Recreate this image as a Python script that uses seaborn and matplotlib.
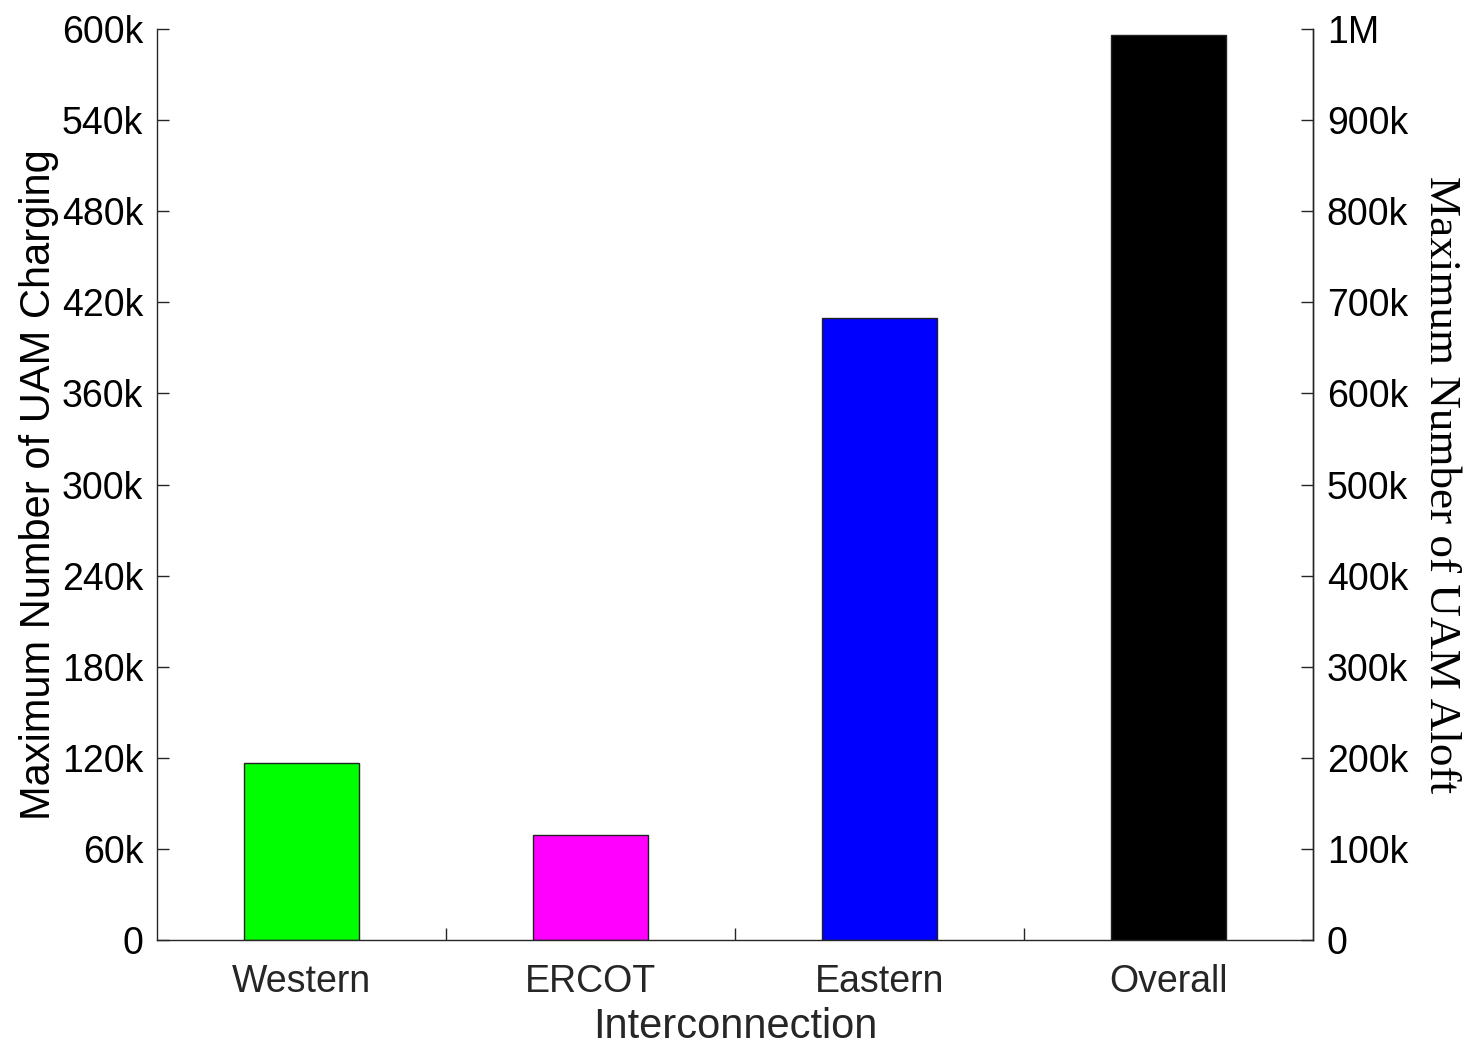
import matplotlib
matplotlib.use("Agg")
import matplotlib.pyplot as plt
import seaborn as sns
import pandas as pd
from matplotlib.ticker import FixedLocator

# Data
categories = ["Western", "ERCOT", "Eastern", "Overall"]
max_charging = [116400, 69200, 410000, 596000]
bar_colors = ["#00FF00", "#FF00FF", "#0000FF", "#000000"]

left_ticks = [0, 60000, 120000, 180000, 240000, 300000, 360000, 420000, 480000, 540000, 600000]
left_labels = ["0", "60k", "120k", "180k", "240k", "300k", "360k", "420k", "480k", "540k", "600k"]
right_ticks = [0, 100000, 200000, 300000, 400000, 500000, 600000, 700000, 800000, 900000, 1000000]
right_labels = ["0", "100k", "200k", "300k", "400k", "500k", "600k", "700k", "800k", "900k", "1M"]

sns.set_style("ticks")
plt.rcParams["font.family"] = ["Liberation Sans", "DejaVu Sans"]

df = pd.DataFrame({"Interconnection": categories, "Charging": max_charging})

fig = plt.figure(figsize=(14.66, 10.44), dpi=100)
ax = fig.add_axes([0.1071, 0.0996, 0.7885, 0.8726])

sns.barplot(data=df, x="Interconnection", y="Charging", hue="Interconnection",
            palette=bar_colors, width=0.4, saturation=1, edgecolor="#222222",
            linewidth=1.0, legend=False, ax=ax)

spine_color = "#262626"
ax.set_xlim(-0.5, 3.5)
ax.set_ylim(0, 600000)
ax.set_yticks(left_ticks)
ax.set_yticklabels(left_labels)
ax.set_xticks(range(len(categories)))
ax.set_xticklabels(categories, color="#262626")
ax.xaxis.set_minor_locator(FixedLocator([0.5, 1.5, 2.5]))

ax.tick_params(axis="x", which="major", length=0, pad=17, labelsize=27)
ax.tick_params(axis="x", which="minor", direction="in", length=8.5, width=1.0, color=spine_color)
ax.tick_params(axis="y", direction="in", length=8.5, width=1.0, color=spine_color,
               pad=10, labelsize=27, labelcolor="black")

ax.set_xlabel("Interconnection", fontsize=30, color="#262626", labelpad=5)
ax.set_ylabel("Maximum Number of UAM Charging", fontsize=30, color="black", labelpad=2)

for side in ["left", "bottom", "right"]:
    ax.spines[side].set_color(spine_color)
    ax.spines[side].set_linewidth(1.0)
ax.spines["top"].set_visible(False)

ax2 = ax.twinx()
ax2.set_ylim(0, 1000000)
ax2.set_yticks(right_ticks)
ax2.set_yticklabels(right_labels)
ax2.tick_params(axis="y", direction="in", length=8.5, width=1.0, color=spine_color,
                pad=10, labelsize=27, labelcolor="black")
ax2.set_ylabel("Maximum Number of UAM Aloft", fontsize=32.5, rotation=270,
               family=["Liberation Serif", "DejaVu Serif"], labelpad=38, color="black")
for side in ["top", "left", "bottom"]:
    ax2.spines[side].set_visible(False)
ax2.spines["right"].set_color(spine_color)
ax2.spines["right"].set_linewidth(1.0)

fig.savefig("out.png", dpi=100, facecolor="white")
